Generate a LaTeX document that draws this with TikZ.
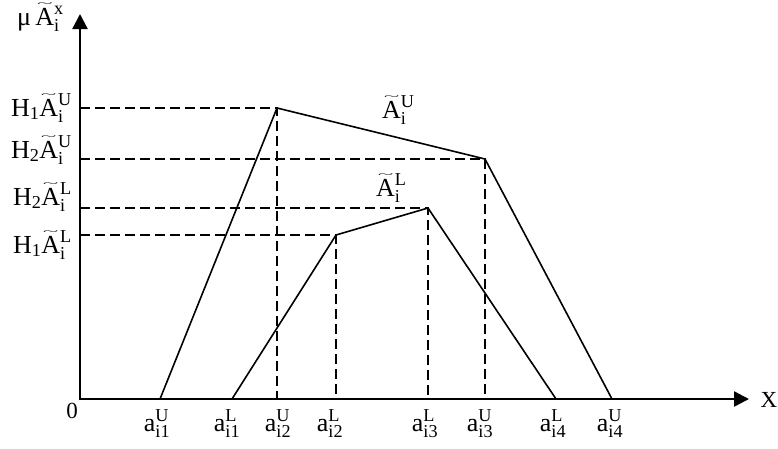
\documentclass[tikz,border=0pt]{standalone}
\usepackage{fontspec}
\setmainfont{Liberation Serif}
\usetikzlibrary{arrows.meta}
\newcommand\myAt{\mathord{\mbox{\ooalign{A\cr\hidewidth\raisebox{0.71em}{\resizebox*{0.6em}{0.14em}{\textasciitilde}}\hidewidth\cr}}}}
\begin{document}
\begin{tikzpicture}[x=1pt,y=-1pt,
  axis/.style={line width=2.3pt,{Triangle[length=15pt,width=15pt]}-{Triangle[length=15pt,width=15pt]}},
  edge/.style={line width=1.6pt,line join=miter},
  guide/.style={line width=1.9pt,dash pattern=on 10pt off 5pt},
  lbl/.style={inner sep=0pt,font=\fontsize{26}{30}\selectfont},
  sml/.style={inner sep=0pt,font=\fontsize{23}{27}\selectfont}]
\useasboundingbox (0,0) rectangle (778,448);
% key points
\coordinate (O) at (80,399);
\coordinate (ytip) at (80,14);
\coordinate (xtip) at (749,399);
\coordinate (u1) at (160,399);
\coordinate (u2) at (277,108);
\coordinate (u3) at (485,159);
\coordinate (u4) at (612,399);
\coordinate (l1) at (232,399);
\coordinate (l2) at (336,235);
\coordinate (l3) at (428,208);
\coordinate (l4) at (556,399);
% guides
\draw[guide] (O |- u2) -- (u2) -- (u2 |- O);
\draw[guide] (O |- u3) -- (u3) -- (u3 |- O);
\draw[guide] (O |- l3) -- (l3) -- (l3 |- O);
\draw[guide] (O |- l2) -- (l2) -- (l2 |- O);
% trapezoids
\draw[edge] (u1) -- (u2) -- (u3) -- (u4);
\draw[edge] (l1) -- (l2) -- (l3) -- (l4);
% axes
\draw[axis] (ytip) -- (O) -- (xtip);
% labels
\node[lbl,anchor=base east] (ylab) at (64,25) {μ\,$\myAt^{\mathrm{x}}_{\mathrm{i}}$};
\node[lbl,anchor=base east] (hu1) at (72,116) {$\mathrm{H}_{\mathrm{1}}\myAt^{\mathrm{U}}_{\mathrm{i}}$};
\node[lbl,anchor=base east] (hu2) at (72,158) {$\mathrm{H}_{\mathrm{2}}\myAt^{\mathrm{U}}_{\mathrm{i}}$};
\node[lbl,anchor=base east] (hl2) at (72,205) {$\mathrm{H}_{\mathrm{2}}\myAt^{\mathrm{L}}_{\mathrm{i}}$};
\node[lbl,anchor=base east] (hl1) at (72,253) {$\mathrm{H}_{\mathrm{1}}\myAt^{\mathrm{L}}_{\mathrm{i}}$};
\node[lbl,anchor=base west] (cu) at (382,118) {$\myAt^{\mathrm{U}}_{\mathrm{i}}$};
\node[lbl,anchor=base west] (cl) at (376,196) {$\myAt^{\mathrm{L}}_{\mathrm{i}}$};
\node[sml,anchor=base] (zero) at (72,418) {0};
\node[sml,anchor=base] (xlab) at (769,407) {X};
\node[lbl,anchor=base] (a1u) at (157,431) {$\mathrm{a}^{\mathrm{U}}_{\mathrm{i1}}$};
\node[lbl,anchor=base] (a1l) at (227,431) {$\mathrm{a}^{\mathrm{L}}_{\mathrm{i1}}$};
\node[lbl,anchor=base] (a2u) at (278,431) {$\mathrm{a}^{\mathrm{U}}_{\mathrm{i2}}$};
\node[lbl,anchor=base] (a2l) at (330,431) {$\mathrm{a}^{\mathrm{L}}_{\mathrm{i2}}$};
\node[lbl,anchor=base] (a3l) at (425,431) {$\mathrm{a}^{\mathrm{L}}_{\mathrm{i3}}$};
\node[lbl,anchor=base] (a3u) at (480,431) {$\mathrm{a}^{\mathrm{U}}_{\mathrm{i3}}$};
\node[lbl,anchor=base] (a4l) at (553,431) {$\mathrm{a}^{\mathrm{L}}_{\mathrm{i4}}$};
\node[lbl,anchor=base] (a4u) at (610,431) {$\mathrm{a}^{\mathrm{U}}_{\mathrm{i4}}$};
\end{tikzpicture}
\end{document}
